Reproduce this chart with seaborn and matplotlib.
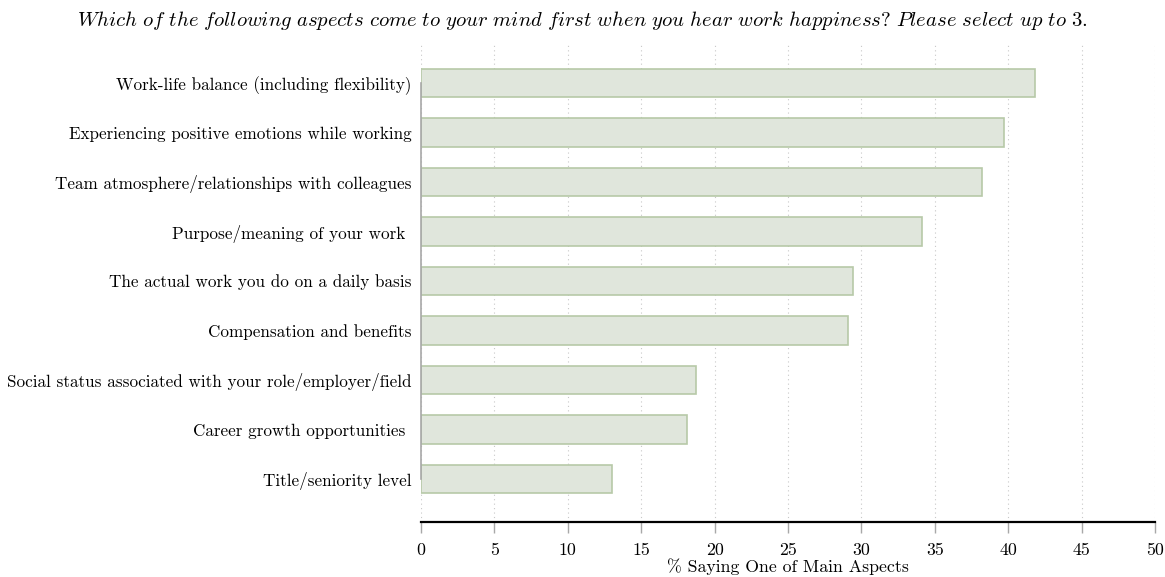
import matplotlib

matplotlib.use("Agg")
import matplotlib.pyplot as plt
import pandas as pd
import seaborn as sns

ASPECTS = [
    "Work-life balance (including flexibility)",
    "Experiencing positive emotions while working",
    "Team atmosphere/relationships with colleagues",
    "Purpose/meaning of your work ",
    "The actual work you do on a daily basis",
    "Compensation and benefits",
    "Social status associated with your role/employer/field",
    "Career growth opportunities ",
    "Title/seniority level",
]
PCT_SAYING = [41.8, 39.7, 38.2, 34.1, 29.4, 29.1, 18.7, 18.1, 13.0]
X_TICKS = [0, 5, 10, 15, 20, 25, 30, 35, 40, 45, 50]

TITLE = ("Which of the following aspects come to your mind first "
         "when you hear work happiness? Please select up to 3.")

sns.set_theme(style="white")
plt.rcParams["font.family"] = ["cmr10", "DejaVu Serif"]
plt.rcParams["mathtext.fontset"] = "cm"
plt.rcParams["axes.formatter.use_mathtext"] = True
plt.rcParams["text.color"] = "black"
plt.rcParams["axes.labelcolor"] = "black"

df = pd.DataFrame({"aspect": ASPECTS, "pct": PCT_SAYING})

fig = plt.figure(figsize=(11.65, 5.77), dpi=100)
ax = fig.add_axes([421 / 1165, 1 - 522 / 577, 734 / 1165, 480 / 577])

sns.barplot(data=df, x="pct", y="aspect", orient="h", ax=ax,
            color="#e0e6dc", edgecolor="#b7c9a8", linewidth=1.2,
            width=0.58, saturation=1, zorder=2)

ax.set_xlim(0, 50)
ax.set_ylim(8.87, -0.83)
ax.set_xticks(X_TICKS)
ax.set_xticklabels([str(t) for t in X_TICKS])
ax.xaxis.grid(True, linestyle=(0, (1, 3)), color="#c8c8c8", linewidth=0.8, zorder=0)
ax.yaxis.grid(False)

for side in ["top", "right"]:
    ax.spines[side].set_visible(False)
ax.spines["bottom"].set_color("black")
ax.spines["bottom"].set_linewidth(1.6)
ax.spines["left"].set_color("#a8a8a8")
ax.spines["left"].set_linewidth(1.2)
ax.spines["left"].set_bounds(0, 8)

ax.tick_params(axis="x", bottom=True, length=8, width=1, color="#a8a8a8",
               labelcolor="black", labelsize=12.8, pad=7)
ax.tick_params(axis="y", left=False, length=0, labelcolor="black",
               labelsize=12.3, pad=7)

ax.set_ylabel("")
ax.set_xlabel("% Saying One of Main Aspects", fontsize=12.8, labelpad=0)

title_math = "$\\mathit{" + TITLE.replace(" ", "\\ ") + "}$"
fig.text(0.5, 1 - 20 / 577, title_math, ha="center", va="center", fontsize=14.9)

fig.savefig("out.png", dpi=100)
